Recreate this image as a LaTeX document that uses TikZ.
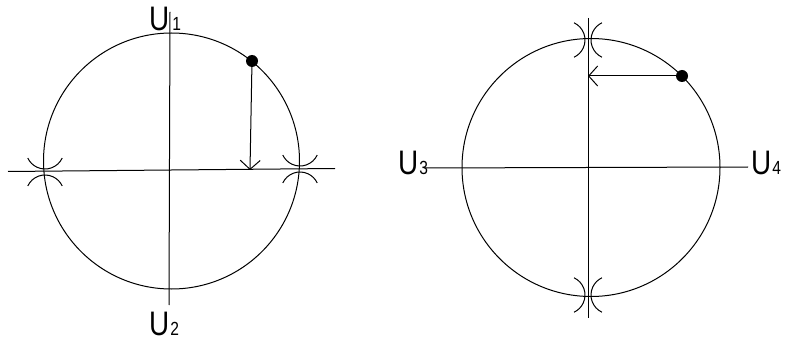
\documentclass[tikz,border=0pt]{standalone}
\usepackage{fontspec}
\setmainfont{Liberation Sans}
\newfontfamily\ufont[FakeStretch=0.82]{Liberation Sans}
\usetikzlibrary{arrows.meta}
\tikzset{
  ln/.style={line width=1pt, black},
  markarc/.style={line width=1pt, black},
  dotnode/.style={circle, fill=black, inner sep=0pt, minimum size=12pt},
  vec/.style={line width=1pt, -{Straight Barb[length=9pt,width=20pt,line width=1pt]}},
  lab/.style={anchor=base west, inner sep=0pt, font=\ufont\fontsize{34}{34}\selectfont},
}
\newcommand{\subsz}[1]{{\fontsize{19}{19}\selectfont #1}}
\begin{document}
\begin{tikzpicture}[x=1pt,y=-1pt]
\useasboundingbox (0,0) rectangle (785,342);
% ---------- left figure ----------
\node[circle, draw, line width=1pt, minimum size=256pt, inner sep=0pt] (C1) at (171.5,161) {};
\coordinate (L1a) at (8,171.5);
\coordinate (L1b) at (335,168.5);
\draw[ln] (L1a) -- (L1b);
\coordinate (V1a) at (170,12);
\coordinate (V1b) at (169,305);
\draw[ln] (V1a) -- (V1b);
% compass marks at left crossing (45,172)
\draw[markarc] (45,150) ++(25:19) arc[start angle=25,end angle=155,radius=19];
\draw[markarc] (45,194) ++(205:19) arc[start angle=205,end angle=335,radius=19];
% compass marks at right crossing (300,169)
\draw[markarc] (300,147) ++(25:19) arc[start angle=25,end angle=155,radius=19];
\draw[markarc] (300,191) ++(205:19) arc[start angle=205,end angle=335,radius=19];
% dot and arrow
\node[dotnode] (D1) at (252,61) {};
\coordinate (A1) at (250,170);
\draw[vec] (D1.center) -- (A1);
% labels
\node[lab] (U1) at (149,31) {U\hspace{3pt}\subsz{1}};
\node[lab] (U2) at (149,335) {U\hspace{1pt}\subsz{2}};
% ---------- right figure ----------
\node[circle, draw, line width=1pt, minimum size=258pt, inner sep=0pt] (C2) at (591,167.5) {};
\coordinate (L2a) at (424,168);
\coordinate (L2b) at (748,167);
\draw[ln] (L2a) -- (L2b);
\coordinate (V2a) at (588,18);
\coordinate (V2b) at (588,318);
\draw[ln] (V2a) -- (V2b);
% compass marks at top crossing (588,40)
\draw[markarc] (566,40) ++(-65:19) arc[start angle=-65,end angle=65,radius=19];
\draw[markarc] (610,40) ++(115:19) arc[start angle=115,end angle=245,radius=19];
% compass marks at bottom crossing (588,295)
\draw[markarc] (566,295) ++(-65:19) arc[start angle=-65,end angle=65,radius=19];
\draw[markarc] (610,295) ++(115:19) arc[start angle=115,end angle=245,radius=19];
% dot and arrow
\node[dotnode] (D2) at (682,76) {};
\coordinate (A2) at (588,76);
\draw[vec] (D2.center) -- (A2);
% labels
\node[lab] (U3) at (398,175) {U\hspace{1pt}\subsz{3}};
\node[lab] (U4) at (751,175) {U\hspace{1pt}\subsz{4}};
\end{tikzpicture}
\end{document}
